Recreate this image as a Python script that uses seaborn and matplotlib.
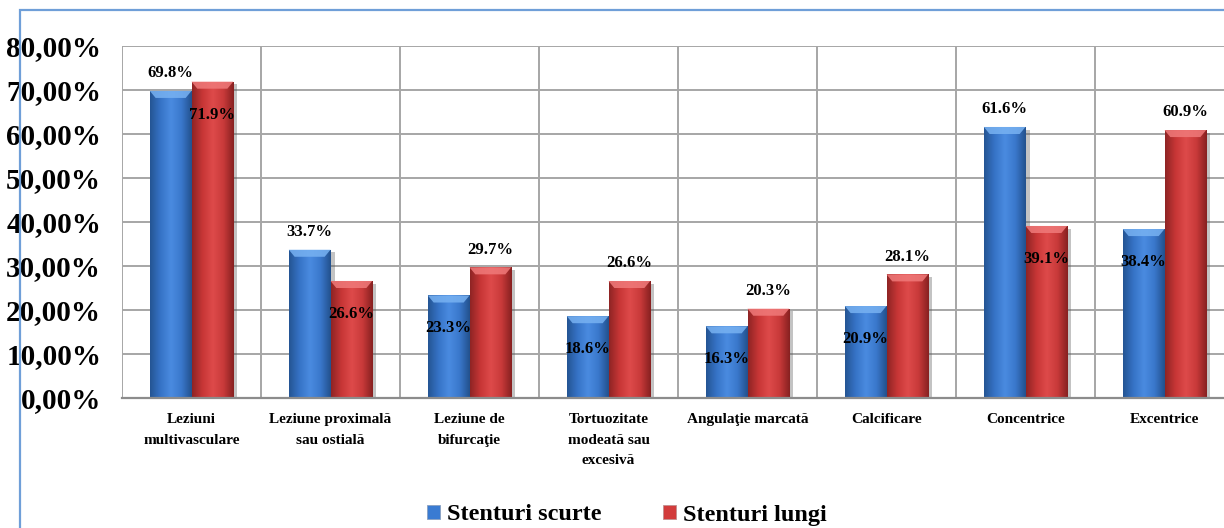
import numpy as np
import pandas as pd
import matplotlib
matplotlib.use("Agg")
import matplotlib.pyplot as plt
import matplotlib.patheffects as pe
from matplotlib.colors import LinearSegmentedColormap
from matplotlib.patches import Rectangle, Polygon
from matplotlib.ticker import FuncFormatter
import seaborn as sns

categories = [
    "Leziuni\nmultivasculare",
    "Leziune proximală\nsau ostială",
    "Leziune de\nbifurcaţie",
    "Tortuozitate\nmodeată sau\nexcesivă",
    "Angulaţie marcată",
    "Calcificare",
    "Concentrice",
    "Excentrice",
]
series_names = ["Stenturi scurte", "Stenturi lungi"]
scurte = [69.8, 33.7, 23.3, 18.6, 16.3, 20.9, 61.6, 38.4]
lungi = [71.9, 26.6, 29.7, 26.6, 20.3, 28.1, 39.1, 60.9]
y_ticks = [0, 10, 20, 30, 40, 50, 60, 70, 80]
# which series (0 = scurte, 1 = lungi) gets its label above the bar in each group
label_above = [0, 0, 1, 1, 1, 1, 0, 1]

df = pd.DataFrame({
    "categorie": categories * 2,
    "serie": [series_names[0]] * len(categories) + [series_names[1]] * len(categories),
    "valoare": scurte + lungi,
})

sns.set_theme(style="white")
plt.rcParams["font.family"] = ["Liberation Serif", "DejaVu Serif"]
plt.rcParams["font.weight"] = "bold"
plt.rcParams["text.color"] = "black"
plt.rcParams["xtick.color"] = "black"
plt.rcParams["ytick.color"] = "black"

W, H = 1224, 528
fig = plt.figure(figsize=(W / 100, H / 100), dpi=100)
ax = fig.add_axes([122 / W, 1 - 398 / H, 1112 / W, 352 / H])

base_colors = {"Stenturi scurte": "#3a7bd2", "Stenturi lungi": "#d23c3c"}
sns.barplot(data=df, x="categorie", y="valoare", hue="serie",
            hue_order=series_names, order=categories,
            palette=base_colors, width=0.6, saturation=1, legend=False,
            edgecolor="none", ax=ax, zorder=2)

ramps = {
    "Stenturi scurte": ["#245493", "#3673c6", "#4a8be0", "#3a78cc", "#22508c"],
    "Stenturi lungi": ["#8e2424", "#c73636", "#de4a4a", "#c93a3a", "#862020"],
}
bevels = {"Stenturi scurte": "#78b2f2", "Stenturi lungi": "#f07a7a"}

grad = np.linspace(0, 1, 256).reshape(1, -1)
for name, cont in zip(series_names, ax.containers):
    cmap = LinearSegmentedColormap.from_list(name, ramps[name])
    for bar in cont:
        x0, w, h = bar.get_x(), bar.get_width(), bar.get_height()
        bar.set_path_effects([pe.SimplePatchShadow(offset=(3, -2), alpha=0.35, shadow_rgbFace="#555555"),
                              pe.Normal()])
        im = ax.imshow(grad, cmap=cmap, extent=[x0, x0 + w, 0, h],
                       aspect="auto", zorder=2.5, interpolation="bicubic")
        im.set_clip_path(bar)
        bev_h = 1.6
        inset = w * 0.14
        ax.add_patch(Polygon([[x0, h], [x0 + w, h], [x0 + w - inset, h - bev_h],
                              [x0 + inset, h - bev_h]], closed=True,
                             facecolor=bevels[name], edgecolor="none", alpha=0.85, zorder=2.6))

# value labels: one per group above its bar, the other inside near the top
for i in range(len(categories)):
    pair = [ax.containers[0][i], ax.containers[1][i]]
    vals = [scurte[i], lungi[i]]
    for k, (bar, v) in enumerate(zip(pair, vals)):
        cx = bar.get_x() + bar.get_width() / 2
        ty = v + 4.0 if k == label_above[i] else v - 7.5
        ax.text(cx, ty, f"{v:.1f}%", ha="center", va="center",
                fontsize=12, fontweight="bold", color="black", zorder=5)

ax.set_xlim(-0.5, len(categories) - 0.5)
ax.set_ylim(0, 80)
ax.set_yticks(y_ticks)
ax.yaxis.set_major_formatter(FuncFormatter(lambda v, p: f"{v:.2f}".replace(".", ",") + "%"))
ax.set_xticks(np.arange(-0.5, len(categories), 1), minor=True)
ax.grid(axis="y", which="major", color="#a6a6a6", lw=1.4)
ax.grid(axis="x", which="minor", color="#a6a6a6", lw=1.4)
ax.grid(axis="x", which="major", visible=False)
ax.set_axisbelow(True)
ax.set_xlabel("")
ax.set_ylabel("")
ax.tick_params(axis="y", length=0, pad=15, labelsize=21, labelcolor="black")
ax.tick_params(axis="x", which="both", length=0, pad=11, labelsize=11, labelcolor="black")
for lab in ax.get_yticklabels():
    lab.set_fontweight("bold")
for lab in ax.get_xticklabels():
    lab.set_fontweight("bold")
    lab.set_linespacing(1.75)
for side in ["top", "right", "left"]:
    ax.spines[side].set_visible(False)
ax.spines["bottom"].set_color("#8c8c8c")
ax.spines["bottom"].set_linewidth(1.6)

# outer chart frame
fig.patches.append(Rectangle((20 / W, -0.1), 1.2, 1 - 10 / H + 0.1, transform=fig.transFigure,
                             fill=False, edgecolor="#6f9fd8", lw=1.6, zorder=0))

handles = [Rectangle((0, 0), 1, 1, facecolor=base_colors[n], edgecolor="#8aa0c0" if i == 0 else "#c09090", lw=0.6)
           for i, n in enumerate(series_names)]
leg = fig.legend(handles, series_names, loc="center", bbox_to_anchor=(627 / W, 1 - 515 / H),
                 ncol=2, frameon=False, prop={"family": "Liberation Serif", "weight": "bold", "size": 17.5},
                 handlelength=0.55, handleheight=0.55, handletextpad=0.3, columnspacing=2.5)
for t in leg.get_texts():
    t.set_color("black")

fig.savefig("out.png", dpi=100)
